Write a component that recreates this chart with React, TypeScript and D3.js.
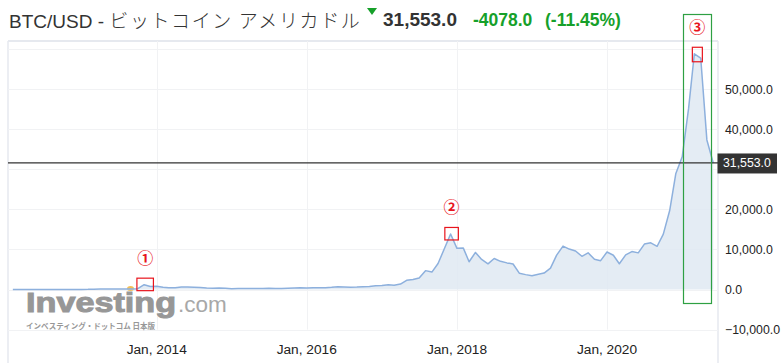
import React from "react";
import * as d3 from "d3";

// Monthly closes BTC/USD, starting Feb 2012
const startMonth = "2012-02-01";
const v2012 = [4.9, 4.9, 5.0, 5.2, 6.7, 9.4, 10.2, 12.4, 11.2, 12.6, 13.5];
const v2013 = [20.4, 33.4, 93.0, 139.0, 129.0, 97.5, 106.2, 135.4, 133.0, 204.0, 1205.0, 754.8];
const v2014 = [829, 549, 458, 448, 628, 640, 586, 482, 386, 338, 378, 320];
const v2015 = [217, 254, 244, 236, 230, 263, 284, 230, 236, 314, 377, 430];
const v2016 = [368, 437, 416, 448, 531, 673, 624, 573, 609, 700, 742, 964];
const v2017 = [970, 1190, 1080, 1348, 2300, 2480, 2875, 4703, 4339, 6468, 10233, 13850];
const v2018 = [10265, 10326, 6926, 9245, 7502, 6398, 7730, 7025, 6635, 6365, 4039, 3709];
const v2019 = [3437, 3816, 4103, 5320, 8558, 10818, 10085, 9595, 8284, 9153, 7546, 7194];
const v2020 = [9350, 8543, 6412, 8629, 9450, 9135, 11333, 11645, 10777, 13798, 19698, 28949];
const v2021 = [33108, 45164, 58786, 57720, 37299, 31553];

const yTicks = [-10000, 0, 10000, 20000, 30000, 40000, 50000, 60000];
const yLabelTicks = [-10000, 0, 10000, 20000, 40000, 50000];
const xTickYears = ["2014-01-01", "2016-01-01", "2018-01-01", "2020-01-01"];

const title = "BTC/USD - ";
const titleJa = "ビットコイン アメリカドル";
const lastPrice = 31553.0;
const change = "-4078.0";
const changePct = "(-11.45%)";

const annotations = [
  { label: "①", month: "2013-11-01", value: 1205 },
  { label: "②", month: "2017-12-01", value: 13850 },
  { label: "③", month: "2021-03-01", value: 58786 },
];

const allValues = [...v2012, ...v2013, ...v2014, ...v2015, ...v2016, ...v2017, ...v2018, ...v2019, ...v2020, ...v2021];

export default function App() {
  const parse = d3.timeParse("%Y-%m-%d");
  const start = parse(startMonth)!;
  const data = allValues.map((v, i) => ({ date: d3.timeMonth.offset(start, i), value: v }));

  const left = 8, right = 718, top = 41;
  const x = d3.scaleTime().domain([parse("2014-01-01")!, parse("2020-01-01")!]).range([156.7, 607]);
  const y = d3.scaleLinear().domain([0, 50000]).range([289.5, 89]);
  const gridBottom = y(-10000);

  const line = d3.line<any>().x(d => x(d.date)).y(d => y(d.value));
  const area = d3.area<any>().x(d => x(d.date)).y0(y(0)).y1(d => y(d.value));
  const fmt = d3.format(",.1f");
  const xFmt = d3.timeFormat("%b, %Y");

  const sans = "'Liberation Sans', Arial, sans-serif";
  const cjk = "'Noto Sans CJK JP', sans-serif";
  const green = "#16a02a";

  return (
    <svg width={783} height={363} style={{ position: "absolute", left: 0, top: 0, background: "#fff" }}>
      {/* header */}
      <text x={9} y={28} fontSize={19} fill="#333" fontFamily={sans}>
        <tspan>{title}</tspan>
        <tspan fontFamily={cjk} fontWeight={300} letterSpacing={1.6}>{titleJa}</tspan>
      </text>
      <path d="M367,8 L377,8 L372,15 Z" fill={green} />
      <text x={383} y={26} fontSize={19} fontWeight="bold" fill="#333" fontFamily={sans}>{fmt(lastPrice)}</text>
      <text x={473} y={26} fontSize={17.5} fontWeight="bold" fill={green} fontFamily={sans}>{change}</text>
      <text x={545} y={26} fontSize={17.5} fontWeight="bold" fill={green} fontFamily={sans}>{changePct}</text>

      {/* frame */}
      <line x1={left} x2={right} y1={top} y2={top} stroke="#e6e9ef" strokeWidth={2} />
      <line x1={left} x2={left} y1={top} y2={363} stroke="#e6e9ef" strokeWidth={1.5} />
      <line x1={right} x2={right} y1={top} y2={363} stroke="#e6e9ef" strokeWidth={1.5} />
      {yTicks.map(t => (
        <line key={t} x1={left} x2={right} y1={Math.round(y(t)) + 0.5} y2={Math.round(y(t)) + 0.5} stroke="#f1f2f4" />
      ))}
      {xTickYears.map(s => {
        const xx = Math.round(x(parse(s)!)) + 0.5;
        return <line key={s} x1={xx} x2={xx} y1={top} y2={gridBottom} stroke="#f1f2f4" />;
      })}

      {/* logo */}
      <g opacity={0.85}>
        <g transform="translate(26,312) scale(1.2,1)">
          <text x={0} y={0} fontSize={28.5} fontWeight="bold" fill="#858585" stroke="#858585" strokeWidth={1}
            fontFamily={sans}>Investing</text>
        </g>
        <text x={178} y={312} fontSize={22.5} fill="#999" fontFamily={sans}>.com</text>
        <ellipse cx={130.5} cy={288.5} rx={3.5} ry={2.5} fill="#f2b53a" />
        <text x={26} y={329} fontSize={7.5} fontWeight="bold" fill="#858585" fontFamily={cjk}>インベスティング・ドットコム 日本版</text>
      </g>

      {/* series */}
      <path d={area(data)!} fill="#dfe9f2" opacity={0.85} />
      <path d={line(data)!} fill="none" stroke="#8db0dd" strokeWidth={1.5} strokeLinejoin="round" />

      {/* y labels */}
      {yLabelTicks.map(t => (
        <text key={t} x={725} y={y(t) + 4.5} fontSize={12.3} fill="#222" fontFamily={sans}>{fmt(t)}</text>
      ))}
      {/* x labels */}
      {xTickYears.map(s => (
        <text key={s} x={x(parse(s)!)} y={354} fontSize={13.7} fill="#222" textAnchor="middle" fontFamily={sans}>{xFmt(parse(s)!)}</text>
      ))}

      {/* last price line and label */}
      <line x1={left} x2={right} y1={y(lastPrice)} y2={y(lastPrice)} stroke="#333" strokeWidth={1.3} />
      <rect x={717.5} y={y(lastPrice) - 9.5} width={59.5} height={20} fill="#333" />
      <text x={723} y={y(lastPrice) + 4.5} fontSize={12.3} fill="#fff" fontFamily={sans}>{fmt(lastPrice)}</text>

      {/* annotations */}
      {annotations.map((a, i) => {
        const d = parse(a.month)!;
        const cx = x(d) + (i === 2 ? 3 : 1);
        const cy = y(a.value);
        const w = i === 2 ? 10 : i === 1 ? 13.5 : 16.5;
        const h = i === 2 ? 14.5 : 12.5;
        return (
          <g key={a.label}>
            <rect x={cx - w / 2} y={cy - 6.5} width={w} height={h} fill="none" stroke="#e8141c" strokeWidth={1.2} />
            <text x={cx} y={cy - 21} fontSize={16} fontWeight="bold" fill="#e8141c" textAnchor="middle" fontFamily={cjk}>{a.label}</text>
          </g>
        );
      })}
      <rect x={683.5} y={14.5} width={28} height={289} fill="none" stroke="#2ea043" strokeWidth={1.2} />
    </svg>
  );
}
